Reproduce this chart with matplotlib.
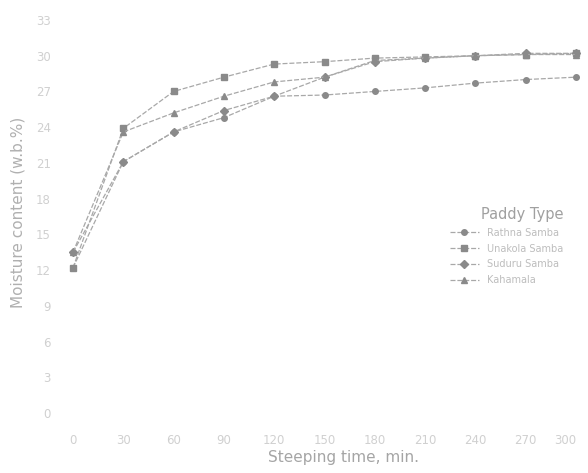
import numpy as np
from matplotlib import pyplot as plt

# steeping time (min)
time = [0, 30, 60, 90, 120, 150, 180, 210, 240, 270, 300]

# moisture content (w.b. %)
rathna = [12.2, 21.1, 23.6, 24.8, 26.6, 26.7, 27.0, 27.3, 27.7, 28.0, 28.2]
unakola = [12.2, 23.9, 27.0, 28.2, 29.3, 29.5, 29.8, 29.9, 30.0, 30.1, 30.2]
suduru = [13.5, 21.1, 23.6, 25.4, 26.6, 28.2, 29.5, 29.8, 30.0, 30.2, 30.2]
kahamala = [13.5, 23.6, 25.2, 26.6, 27.8, 28.2, 29.6, 29.8, 30.0, 30.1, 30.1]

names = ['Rathna Samba', 'Unakola Samba', 'Suduru Samba', 'Kahamala']
markers = ['o', 's', 'D', '^']
yticks = [0, 3, 6, 9, 12, 15, 18, 21, 24, 27, 30, 33]

fig = plt.figure(figsize=(5.88, 4.73), dpi=100)
ax = fig.add_axes([73 / 588, 60 / 473, 503 / 588, 393 / 473])

for vals, name, m in zip([rathna, unakola, suduru, kahamala], names, markers):
    ax.plot(time, vals, linestyle='--', dashes=(4, 1.5), linewidth=0.9, color='#a8a8a8',
            marker=m, markersize=4, markerfacecolor='#8a8a8a', markeredgecolor='#8a8a8a',
            label=name, clip_on=False)

ax.set_xlim(0, 300)
ax.set_ylim(0, 33)
ax.set_xticks(time)
ax.set_yticks(yticks)
for s in ax.spines.values():
    s.set_visible(False)
ax.tick_params(length=0, labelsize=8.5, labelcolor='#d0d0d0')
ax.tick_params(axis='x', pad=15)
ax.tick_params(axis='y', pad=16)
xl = ax.get_xticklabels()
xl[-1].set_horizontalalignment('right')
xl[-1].set_x(300)

fig.text(343 / 588, 1 - 457 / 473, 'Steeping time, min.', ha='center', va='center',
         fontsize=11, color='#a5a5a5')
fig.text(18 / 588, 1 - 212 / 473, 'Moisture content (w.b.%)', ha='center', va='center',
         rotation=90, fontsize=11, color='#b0b0b0')

leg = ax.legend(title='Paddy Type', loc='upper left', bbox_to_anchor=(445 / 588, 1 - 202 / 473),
                bbox_transform=fig.transFigure, frameon=False, fontsize=7,
                title_fontsize=10.5, handlelength=3, labelspacing=0.6, borderpad=0)
leg.get_title().set_color('#a0a0a0')
leg._legend_box.align = 'right'
for t in leg.get_texts():
    t.set_color('#bdbdbd')

plt.savefig('out.png', dpi=100)
